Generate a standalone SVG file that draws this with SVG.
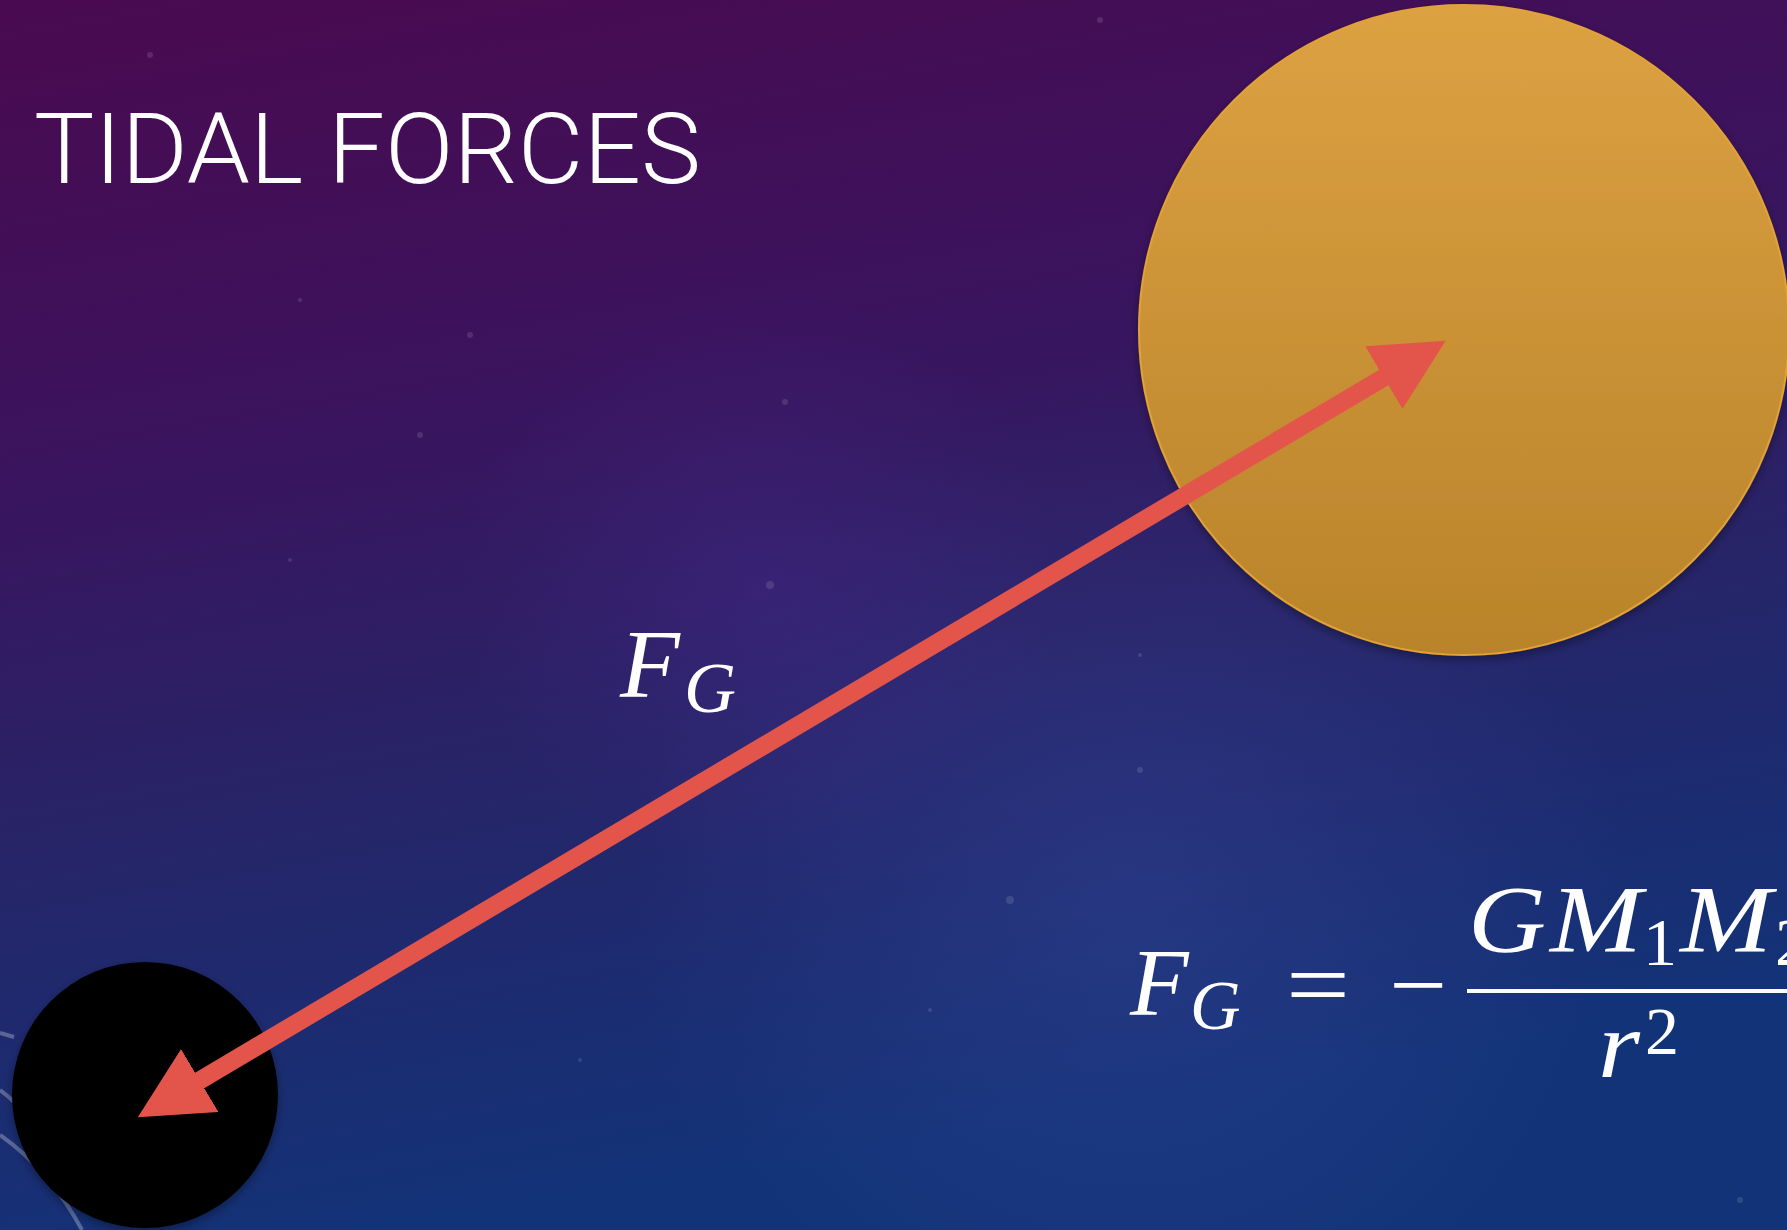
<svg xmlns="http://www.w3.org/2000/svg" width="1787" height="1230" viewBox="0 0 1787 1230">
<style>
.title{font-family:"Roboto","Liberation Sans",sans-serif;font-weight:300;fill:#ffffff}
.m{font-family:"Liberation Serif","DejaVu Serif",serif;font-style:italic;fill:#ffffff}
.n{font-family:"Liberation Serif","DejaVu Serif",serif;fill:#ffffff}
.star{fill:#ffffff;opacity:0.12}
.arc{fill:none;stroke:#ffffff;stroke-opacity:0.28;stroke-width:4}
</style>
<defs>
<linearGradient id="bg" x1="0" y1="0" x2="0.25" y2="1">
<stop offset="0" stop-color="#4a0a50"/>
<stop offset="0.35" stop-color="#3b135d"/>
<stop offset="0.65" stop-color="#272468"/>
<stop offset="1" stop-color="#123378"/>
</linearGradient>
<radialGradient id="glow" cx="1130" cy="900" r="500" gradientUnits="userSpaceOnUse">
<stop offset="0" stop-color="#3b4aa0" stop-opacity="0.35"/>
<stop offset="1" stop-color="#3b4aa0" stop-opacity="0"/>
</radialGradient>
<radialGradient id="glow2" cx="760" cy="590" r="300" gradientUnits="userSpaceOnUse">
<stop offset="0" stop-color="#4a2a90" stop-opacity="0.35"/>
<stop offset="1" stop-color="#4a2a90" stop-opacity="0"/>
</radialGradient>
<linearGradient id="orange" x1="0" y1="0" x2="0" y2="1">
<stop offset="0" stop-color="#dca142"/>
<stop offset="1" stop-color="#b9832a"/>
</linearGradient>
<filter id="shadow" x="-10%" y="-10%" width="120%" height="125%">
<feDropShadow dx="0" dy="4" stdDeviation="5" flood-color="#000000" flood-opacity="0.35"/>
</filter>
<marker id="head" viewBox="0 0 72 73" refX="2" refY="36.5" markerWidth="72" markerHeight="73" markerUnits="userSpaceOnUse" orient="auto-start-reverse">
<path d="M0,0 L72,36.5 L0,73 z" fill="#e3554a"/>
</marker>
</defs>
<rect width="1787" height="1230" fill="url(#bg)"/>
<rect width="1787" height="1230" fill="url(#glow)"/>
<rect width="1787" height="1230" fill="url(#glow2)"/>
<g id="stars">
<circle class="star" cx="150" cy="55" r="3"/>
<circle class="star" cx="470" cy="335" r="3"/>
<circle class="star" cx="785" cy="402" r="3"/>
<circle class="star" cx="770" cy="585" r="4"/>
<circle class="star" cx="290" cy="560" r="2"/>
<circle class="star" cx="420" cy="435" r="3"/>
<circle class="star" cx="1140" cy="770" r="3"/>
<circle class="star" cx="1010" cy="900" r="4"/>
<circle class="star" cx="1140" cy="655" r="2"/>
<circle class="star" cx="300" cy="300" r="2"/>
<circle class="star" cx="1100" cy="20" r="3"/>
<circle class="star" cx="1740" cy="1200" r="3"/>
<circle class="star" cx="930" cy="1010" r="2"/>
<circle class="star" cx="580" cy="1060" r="2"/>
</g>
<g id="background-arcs">
<path class="arc" d="M0,1033 L14,1037"/>
<path class="arc" d="M0,1090 Q8,1096 14,1102"/>
<path class="arc" d="M0,1135 Q50,1170 82,1230"/>
</g>
<g id="title">
<text class="title" x="34" y="183" font-size="98" textLength="667" lengthAdjust="spacingAndGlyphs">TIDAL FORCES</text>
</g>
<g id="planet">
<circle cx="1464" cy="330" r="325" fill="url(#orange)" stroke="#e2a235" stroke-width="2" filter="url(#shadow)"/>
</g>
<g id="blackhole">
<circle cx="145" cy="1095" r="133" fill="#000000" filter="url(#shadow)"/>
</g>
<g id="connectors">
<line x1="198" y1="1081.5" x2="1385.5" y2="376.5" stroke="#e3554a" stroke-width="18" marker-start="url(#head)" marker-end="url(#head)"/>
</g>
<g id="label-fg">
<text class="m" x="620" y="697" font-size="98">F</text>
<text class="m" x="684" y="712" font-size="72">G</text>
</g>
<g id="formula">
<text class="m" x="1130" y="1015" font-size="96">F</text>
<text class="m" x="1190" y="1029" font-size="70">G</text>
<text class="n" x="1286" y="1017" font-size="96" textLength="64" lengthAdjust="spacingAndGlyphs">=</text>
<text class="n" x="1389" y="1017" font-size="96" textLength="58" lengthAdjust="spacingAndGlyphs">−</text>
<rect x="1467" y="989" width="330" height="4" fill="#ffffff"/>
<text class="m" x="1468" y="952" font-size="96" textLength="78" lengthAdjust="spacingAndGlyphs">G</text>
<text class="m" x="1550" y="952" font-size="96" textLength="92" lengthAdjust="spacingAndGlyphs">M</text>
<text class="n" x="1643" y="965" font-size="68">1</text>
<text class="m" x="1680" y="952" font-size="96" textLength="92" lengthAdjust="spacingAndGlyphs">M</text>
<text class="n" x="1775" y="965" font-size="68">2</text>
<text class="m" x="1598" y="1077" font-size="96" textLength="42" lengthAdjust="spacingAndGlyphs">r</text>
<text class="n" x="1645" y="1054" font-size="68">2</text>
</g>
</svg>
